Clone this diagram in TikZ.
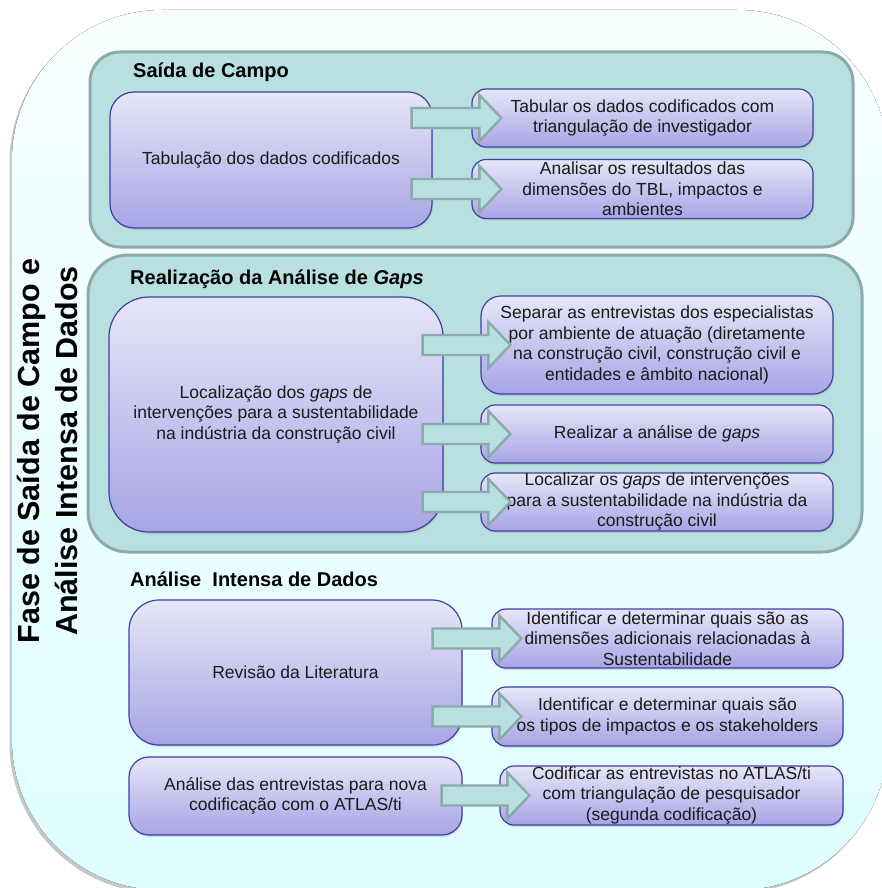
\documentclass[tikz,border=0pt]{standalone}
\usepackage{fontspec}
\setmainfont{Liberation Sans}
\usetikzlibrary{calc,shadows}

\definecolor{pageink}{HTML}{1A1A1A}
\definecolor{panelfill}{HTML}{B8E0E0}
\definecolor{paneledge}{HTML}{8BAAA9}
\definecolor{boxtop}{HTML}{E6E6F8}
\definecolor{boxbottom}{HTML}{A7A4E5}
\definecolor{boxedge}{HTML}{40409E}
\definecolor{outertop}{HTML}{F7FEFE}
\definecolor{outerbottom}{HTML}{DFFEFF}
\definecolor{outershade}{HTML}{C3C9C9}

\tikzset{
  panel/.style={draw=paneledge, fill=panelfill, line width=3pt,
    rounded corners=#1, inner sep=0pt},
  panel/.default=30pt,
  taskbox/.style={draw=boxedge, line width=1.2pt, top color=boxtop,
    bottom color=boxbottom, rounded corners=#1, align=center,
    inner xsep=4pt, inner ysep=0pt, text=pageink,
    font=\fontsize{17.5}{20.5}\selectfont,
    drop shadow={shadow xshift=1pt, shadow yshift=-2pt, opacity=0.22}},
  taskbox/.default=14pt,
  paneltitle/.style={anchor=base west, inner sep=0pt, text=black,
    font=\bfseries\fontsize{20}{24}\selectfont},
  flowarrow/.style={draw=paneledge, fill=panelfill, line width=2.4pt,
    line join=miter},
}

% block arrow from the right part of #2 to the left part of #3;
% #1 is how far the tail reaches back into the source box
\newcommand{\blockflow}[3][21pt]{%
  \draw[flowarrow] let \p1=(#2.east), \p2=(#3.west) in
    (\x1-#1,\y2+10pt) -- (\x2+8pt,\y2+10pt) -- (\x2+8pt,\y2+23pt)
    -- (\x2+30pt,\y2) -- (\x2+8pt,\y2-23pt) -- (\x2+8pt,\y2-10pt)
    -- (\x1-#1,\y2-10pt) -- cycle;}

\begin{document}
\begin{tikzpicture}[x=1pt,y=-1pt]
\useasboundingbox (0,0) rectangle (882,888);
\fill[white] (0,0) rectangle (882,888);

% outer rounded frame
\fill[outershade, rounded corners=150pt] (9.5,12.5) rectangle (886,893);
\fill[top color=outertop, bottom color=outerbottom, rounded corners=150pt]
  (12,10) rectangle (888,890);

% phase label
\node[rotate=90, align=center, inner sep=0pt, text=black,
  font=\bfseries\fontsize{30.5}{38}\selectfont] (phase) at (47,451)
  {Fase de Saída de Campo e\\Análise Intensa de Dados};

% --- Saída de Campo ---
\node[panel=30pt, minimum width=763pt, minimum height=195pt] (sec1) at (471.5,149.5) {};
\node[paneltitle] (title1) at (133,78) {Saída de Campo};
\node[taskbox=24pt, minimum width=322pt, minimum height=136pt] (big1) at (271,160)
  {Tabulação dos dados codificados};
\node[taskbox, minimum width=341pt, minimum height=58pt] (t11) at (642.5,118)
  {Tabular os dados codificados com\\triangulação de investigador};
\node[taskbox, minimum width=341pt, minimum height=59pt] (t12) at (642.5,189)
  {Analisar os resultados das\\dimensões do TBL, impactos e\\ambientes};

% --- Realização da Análise de Gaps ---
\node[panel=40pt, minimum width=774pt, minimum height=297pt] (sec2) at (475,403.5) {};
\node[paneltitle] (title2) at (130,284) {Realização da Análise de \textit{Gaps}};
\node[taskbox=40pt, minimum width=334pt, minimum height=235pt] (big2) at (276,414.5)
  {Localização dos \textit{gaps} de\\intervenções para a sustentabilidade\\na indústria da construção civil};
\node[taskbox=20pt, minimum width=352pt, minimum height=98pt] (t21) at (657,345)
  {Separar as entrevistas dos especialistas\\por ambiente de atuação (diretamente\\na construção civil, construção civil e\\entidades e âmbito nacional)};
\node[taskbox, minimum width=352pt, minimum height=58pt] (t22) at (657,434)
  {Realizar a análise de \textit{gaps}};
\node[taskbox, minimum width=352pt, minimum height=58pt] (t23) at (657,502)
  {Localizar os \textit{gaps} de intervenções\\para a sustentabilidade na indústria da\\construção civil};

% --- Análise Intensa de Dados ---
\node[paneltitle] (title3) at (130,586) {Análise\ \ Intensa de Dados};
\node[taskbox=30pt, minimum width=333pt, minimum height=145pt] (big3) at (295.5,672.5)
  {Revisão da Literatura};
\node[taskbox=20pt, minimum width=333pt, minimum height=78pt] (b32) at (295.5,796)
  {Análise das entrevistas para nova\\codificação com o ATLAS/ti};
\node[taskbox, minimum width=351pt, minimum height=59pt] (t31) at (667.5,638.5)
  {Identificar e determinar quais são as\\dimensões adicionais relacionadas à\\Sustentabilidade};
\node[taskbox, minimum width=351pt, minimum height=59pt] (t32) at (667.5,716.5)
  {Identificar e determinar quais são\\os tipos de impactos e os stakeholders};
\node[taskbox, minimum width=343pt, minimum height=59pt] (t33) at (671.5,795.5)
  {Codificar as entrevistas no ATLAS/ti\\com triangulação de pesquisador\\(segunda codificação)};

% connectors
\blockflow{big1}{t11}
\blockflow{big1}{t12}
\blockflow{big2}{t21}
\blockflow{big2}{t22}
\blockflow{big2}{t23}
\blockflow[30pt]{big3}{t31}
\blockflow[30pt]{big3}{t32}
\blockflow{b32}{t33}
\end{tikzpicture}
\end{document}
